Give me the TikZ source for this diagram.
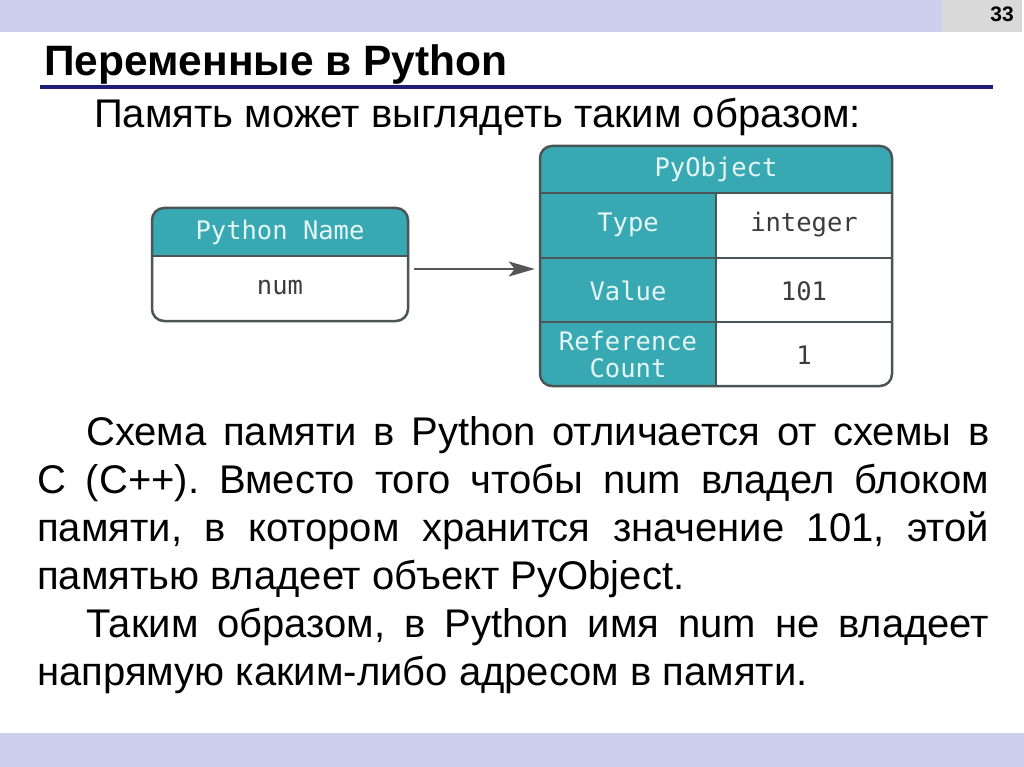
\documentclass[tikz,border=0pt]{standalone}
\usepackage{fontspec}
\setmainfont{Liberation Sans}
\newfontfamily\monof{DejaVu Sans Mono}
\usetikzlibrary{arrows.meta}
\definecolor{barc}{HTML}{CDCFEC}
\definecolor{numboxc}{HTML}{D9D9D9}
\definecolor{navyc}{HTML}{1E1E78}
\definecolor{tealc}{HTML}{38A9B2}
\definecolor{edgec}{HTML}{4A5556}
\definecolor{hdtextc}{HTML}{E4F6F6}
\definecolor{celltextc}{HTML}{3C3C3C}
\definecolor{arrowc}{HTML}{555555}
\frenchspacing
\begin{document}
\begin{tikzpicture}[x=1pt,y=-1pt,
  bodytext/.style={anchor=base west,inner sep=0pt,font=\fontsize{40}{48}\selectfont},
  hdtext/.style={inner sep=0pt,text=hdtextc,font=\monof\fontsize{25.5}{27}\selectfont,align=center},
  celltext/.style={inner sep=0pt,text=celltextc,font=\monof\fontsize{25.5}{27}\selectfont},
  boxframe/.style={draw=edgec,line width=2.5pt,rounded corners=12pt,inner sep=0pt},
  gridline/.style={draw=edgec,line width=2.2pt},
  arr/.style={draw=arrowc,line width=2pt,-{Stealth[length=26pt,width=15pt,inset=6pt]}}]
\useasboundingbox (0,0) rectangle (1024,767);
\fill[white] (0,0) rectangle (1024,767);
% header and footer bars
\fill[barc] (0,0) rectangle (942,32);
\fill[numboxc] (942,0) rectangle (1022,32);
\node[inner sep=0pt,font=\fontsize{21}{21}\selectfont\bfseries] (pagenum) at (1002,14) {33};
\fill[barc] (0,733) rectangle (1024,767);
% title
\node[anchor=base west,inner sep=0pt,font=\fontsize{42.5}{48}\selectfont\bfseries] (title) at (44,76) {Переменные в Python};
\draw[navyc,line width=3.5pt] (40,87) -- (993,87);
\node[anchor=base west,inner sep=0pt,font=\fontsize{40}{46}\selectfont] (subtitle) at (94,128) {Память может выглядеть таким образом:};
% Python Name box
\begin{scope}
  \clip[rounded corners=12pt] (152,208) rectangle (408,321);
  \fill[white] (152,208) rectangle (408,321);
  \fill[tealc] (152,208) rectangle (408,256);
\end{scope}
\draw[gridline] (152,256) -- (408,256);
\node[boxframe,minimum width=256pt,minimum height=113pt] (pnbox) at (280,264.5) {};
\node[hdtext] (pnhead) at (280,232) {Python Name};
\node[celltext] (pnval) at (280,288) {num};
% PyObject box
\begin{scope}
  \clip[rounded corners=12pt] (540,146) rectangle (892,386);
  \fill[white] (540,146) rectangle (892,386);
  \fill[tealc] (540,146) rectangle (892,193);
  \fill[tealc] (540,193) rectangle (716,386);
\end{scope}
\draw[gridline] (540,193) -- (892,193);
\draw[gridline] (540,258) -- (892,258);
\draw[gridline] (540,322) -- (892,322);
\draw[gridline] (716,193) -- (716,386);
\node[boxframe,minimum width=352pt,minimum height=240pt] (pyobj) at (716,266) {};
\node[hdtext] (pyhead) at (716,169) {PyObject};
\node[hdtext] (typek) at (628,225) {Type};
\node[celltext] (typev) at (804,225) {integer};
\node[hdtext] (valk) at (628,291) {Value};
\node[celltext] (valv) at (804,291) {101};
\node[hdtext] (refk) at (628,354) {Reference\\Count};
\node[celltext] (refv) at (804,355) {1};
% arrow
\draw[arr] ([shift={(5,4.5)}]pnbox.east) -- ([shift={(-4,4.5)}]pnbox.east -| pyobj.west);
% body text
\node[bodytext] (l1) at (86,445) {\makebox[903pt][s]{Схема памяти в Python отличается от схемы в}};
\node[bodytext] (l2) at (37,493) {\makebox[952pt][s]{С (С++). Вместо того чтобы num владел блоком}};
\node[bodytext] (l3) at (37,541) {\makebox[952pt][s]{памяти, в котором хранится значение 101, этой}};
\node[bodytext] (l4) at (37,589) {памятью владеет объект PyObject.};
\node[bodytext] (l5) at (86,637) {\makebox[903pt][s]{Таким образом, в Python имя num не владеет}};
\node[bodytext] (l6) at (37,685) {напрямую каким-либо адресом в памяти.};
\end{tikzpicture}
\end{document}
